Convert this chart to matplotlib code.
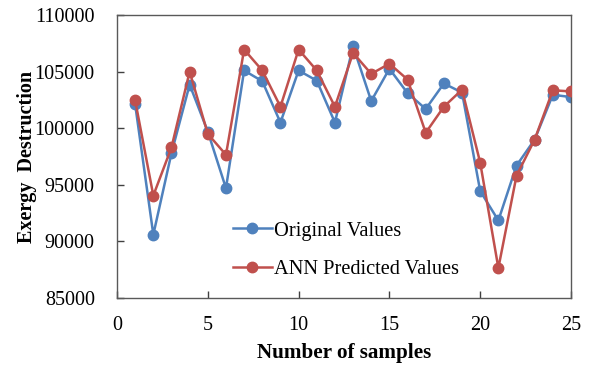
import numpy as np
import matplotlib.pyplot as plt

plt.rcParams['font.family'] = ['Liberation Serif', 'DejaVu Serif']

samples = list(range(1, 26))
original = [102100, 90600, 97800, 103850, 99700, 94700, 105100, 104150, 100500, 105100,
            104200, 100500, 107250, 102400, 105250, 103100, 101700, 103950, 103150, 94450,
            91850, 96700, 99000, 102950, 102750]
ann_predicted = [102450, 94050, 98300, 105000, 99500, 97650, 106950, 105100, 101900, 106950,
                 105100, 101900, 106650, 104800, 105700, 104300, 99600, 101900, 103400, 96950,
                 87650, 95800, 99000, 103350, 103250]

fig = plt.figure(figsize=(5.89, 3.65), dpi=100)
ax = fig.add_axes([117/589, 1 - 298/365, (571-117)/589, (298-15)/365])

ax.plot(samples, original, '-o', color='#4F81BD', lw=1.8, ms=7.5, label='Original Values', zorder=2)
ax.plot(samples, ann_predicted, '-o', color='#C0504D', lw=1.8, ms=7.5, label='ANN Predicted Values', zorder=3)

ax.set_xlim(0, 25)
ax.set_ylim(85000, 110000)
ax.set_xticks(range(0, 26, 5))
ax.set_yticks(range(85000, 110001, 5000))
ax.tick_params(direction='in', length=5, width=1, labelsize=14.5, colors='#404040', labelcolor='black')
ax.tick_params(axis='x', pad=13)
ax.tick_params(axis='y', pad=16)
for s in ax.spines.values():
    s.set_color('#595959')
    s.set_linewidth(1)

ax.set_xlabel('Number of samples', fontsize=15.2, fontweight='bold', labelpad=6)
ax.set_ylabel('Exergy  Destruction', fontsize=14.5, fontweight='bold', labelpad=-2)

ax.legend(loc='lower left', bbox_to_anchor=(0.232, 0.03), frameon=False, fontsize=14.7,
          handlelength=1.95, labelspacing=0.95, handletextpad=0.1, borderpad=0)

fig.savefig('out.png', dpi=100)
